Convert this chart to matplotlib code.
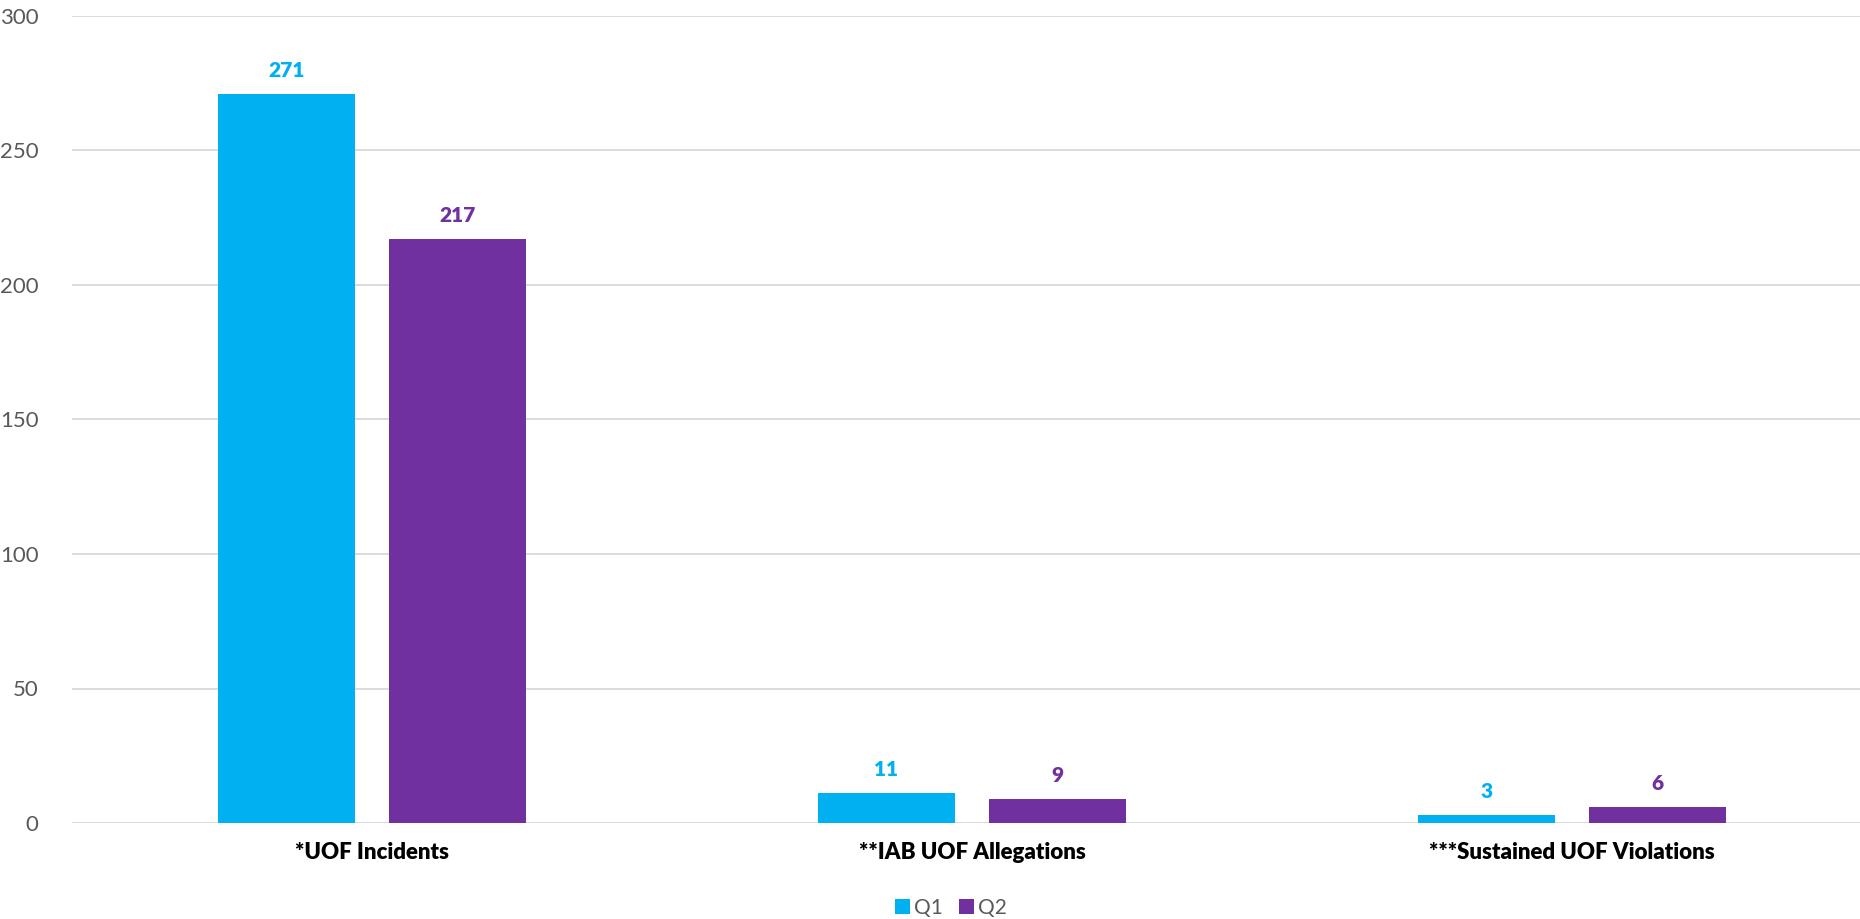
#! /usr/bin/env python
# UOF counts by quarter, grouped bar chart

import numpy as np
import matplotlib.pyplot as plt

plt.rcParams['font.family'] = ['Lato', 'DejaVu Sans']

categories = ['*UOF Incidents', '**IAB UOF Allegations', '***Sustained UOF Violations']
q1 = [271, 11, 3]
q2 = [217, 9, 6]
series = ['Q1', 'Q2']

c_q1 = '#00B0F0'
c_q2 = '#7030A0'

x = np.arange(len(categories))
width = 0.228
off = 0.143

fig = plt.figure(figsize=(18.6, 9.19), dpi=100)
ax = fig.add_axes([72/1860, 1 - 823/919, (1860 - 72)/1860, (823 - 16)/919])

barQ1 = ax.bar(x - off, q1, width, color=c_q1, label=series[0], zorder=3)
barQ2 = ax.bar(x + off, q2, width, color=c_q2, label=series[1], zorder=3)

# value labels above bars
for bars, col in ((barQ1, c_q1), (barQ2, c_q2)):
    for b in bars:
        ax.annotate(str(int(b.get_height())), (b.get_x() + b.get_width()/2, b.get_height()),
                    xytext=(0, 17), textcoords='offset points', ha='center', va='center',
                    fontsize=15, fontweight='heavy', color=col)

ax.set_xlim(-0.5, 2.48)
ax.set_ylim(0, 300)
ax.set_yticks(range(0, 301, 50))
ax.yaxis.grid(True, color='#D9D9D9', linewidth=1.3, zorder=0)
ax.set_axisbelow(True)
for s in ['top', 'right', 'left', 'bottom']:
    ax.spines[s].set_visible(False)

ax.tick_params(axis='y', length=0, pad=24, labelsize=16, labelcolor='#595959')
ax.tick_params(axis='x', length=0, pad=14, labelsize=16)
ax.set_xticks(x)
ax.set_xticklabels(categories, fontweight='heavy')

ax.legend(loc='center', bbox_to_anchor=(951/1860, 1 - 908/919), bbox_transform=fig.transFigure,
          ncol=2, frameon=False, fontsize=15, labelcolor='#595959',
          handlelength=0.7, handleheight=0.7, handletextpad=0.2, columnspacing=0.8)

fig.savefig('out.png', dpi=100)
